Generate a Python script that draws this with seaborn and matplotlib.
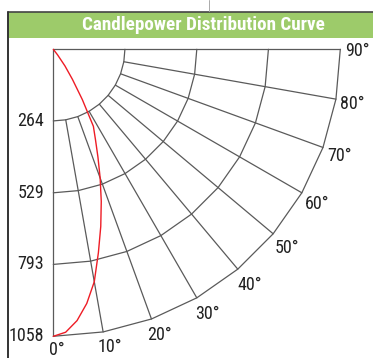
import numpy as np
import pandas as pd
import seaborn as sns
import matplotlib.pyplot as plt
from matplotlib import font_manager
from matplotlib.patches import Rectangle
from matplotlib.lines import Line2D

# Candlepower distribution (vertical angle in degrees, intensity in candela)
angles = [0, 2.5, 5, 7.5, 10, 12.5, 15, 17.5, 20, 22.5, 25, 27.5, 30, 32.5, 35, 37.5, 40]
candela = [1058, 1044, 1004, 945, 870, 768, 676, 588, 505, 430, 368, 320, 214, 131, 75, 26, 0]

# Grid definition
ring_values = [264, 529, 793, 1058]
ring_labels = ["264", "529", "793", "1058"]
grid_angles = [0, 10, 20, 30, 40, 50, 60, 70, 80, 90]
angle_labels = ["0°", "10°", "20°", "30°", "40°", "50°", "60°", "70°", "80°", "90°"]
title = "Candlepower Distribution Curve"

W, H, DPI = 373, 358, 100
sns.set_theme(style="white")

# prefer a condensed face when one is installed
installed = {f.name for f in font_manager.fontManager.ttflist}
condensed = [n for n in ("Roboto Condensed", "Liberation Sans Narrow", "Arial Narrow")
             if n in installed]
narrow = bool(condensed)
plt.rcParams["font.family"] = condensed + ["Liberation Sans", "DejaVu Sans"]
label_size = 13 if narrow else 11
title_size = 13.8 if narrow else 10.2

fig = plt.figure(figsize=(W / DPI, H / DPI), dpi=DPI)
fig.patch.set_facecolor("white")

# axes spans the whole figure; one data unit = one candela
ox, oy, r_px = 53.3, 49.3, 287.0
px = r_px / ring_values[-1]
ax = fig.add_axes([0, 0, 1, 1])
ax.set_xlim(-ox / px, (W - ox) / px)
ax.set_ylim(-(H - oy) / px, oy / px)
ax.axis("off")
ax.patch.set_alpha(0)


def to_xy(theta_deg, r):
    t = np.deg2rad(np.asarray(theta_deg, dtype=float))
    r = np.asarray(r, dtype=float)
    return r * np.sin(t), -r * np.cos(t)


grid_color = "#5a5a5a"
grid_lw = 0.9

# polygonal rings
for rv in ring_values:
    gx, gy = to_xy(grid_angles, [rv] * len(grid_angles))
    ax.plot(gx, gy, color=grid_color, lw=grid_lw, zorder=1)

# radial spokes
for a in grid_angles:
    r0 = 0 if a in (0, 90) else ring_values[0]
    sx, sy = to_xy([a, a], [r0, ring_values[-1]])
    ax.plot(sx, sy, color=grid_color, lw=grid_lw, zorder=1)

# intensity curve
cx, cy = to_xy(angles, candela)
curve = pd.DataFrame({"x": cx, "y": cy})
sns.lineplot(data=curve, x="x", y="y", sort=False, estimator=None,
             color="#ee1c25", lw=1.0, ax=ax, zorder=3)

# ring value labels along the 0° axis
for rv, lab in zip(ring_values, ring_labels):
    ax.annotate(lab, xy=(0, -rv), xytext=(-6.5, 0), textcoords="offset points",
                ha="right", va="center", fontsize=label_size, color="#222222")

# angle labels outside the outer ring
for a, lab in zip(grid_angles, angle_labels):
    lx, ly = to_xy(a, ring_values[-1])
    t = np.deg2rad(a)
    dx = (4 + 13 * np.sin(t)) * 0.72
    dy = -(1.5 + 12.5 * np.cos(t) + 4.5 * np.sin(2 * t)) * 0.72
    ax.annotate(lab, xy=(lx, ly), xytext=(dx, dy), textcoords="offset points",
                ha="center", va="center", fontsize=label_size, color="#222222")

# header band and frame
fig.add_artist(Rectangle((8 / W, 1 - 38 / H), (W - 8) / W, 26 / H,
                         transform=fig.transFigure, facecolor="#9dcb6a",
                         edgecolor="none", zorder=2))
fig.add_artist(Line2D([8 / W, 1], [1 - 11.7 / H] * 2, transform=fig.transFigure,
                      color="#444444", lw=1.2, zorder=3))
fig.add_artist(Line2D([8.3 / W] * 2, [0, 1 - 11.7 / H], transform=fig.transFigure,
                      color="#333333", lw=1.4, zorder=3))
fig.add_artist(Line2D([209.3 / W] * 2, [1, 1 - 11 / H], transform=fig.transFigure,
                      color="#aaaaaa", lw=0.7, zorder=3))
fig.text(203 / W, 1 - 25.5 / H, title, ha="center", va="center", color="white",
         fontsize=title_size, fontweight="bold", zorder=4)

fig.savefig("out.png", dpi=DPI)
